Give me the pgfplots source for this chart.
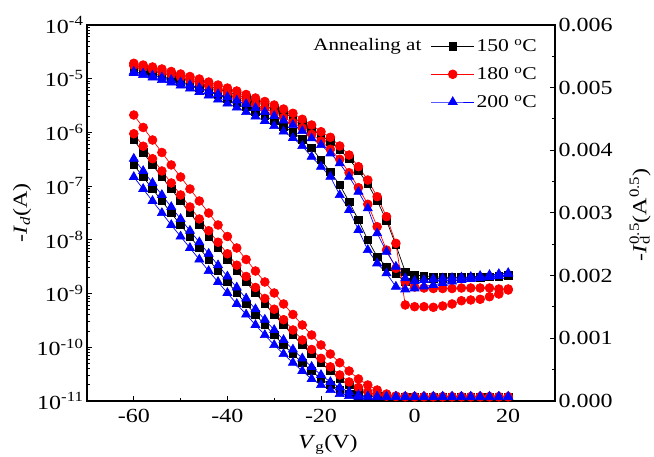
\documentclass[border=0pt]{standalone}
\usepackage{pgfplots}
\pgfplotsset{compat=1.18}
\usepackage{pgfplotstable}
\usepackage{fontspec}
\setmainfont{Liberation Serif}[FakeStretch=1.2]

\pgfplotstableread{
V Ra Rb Ka Ba Kb Bb
-60 2.11e-6 9.46e-7 7.23e-7 3.24e-7 2.48e-7 1.481e-7
-58 1.236e-6 5.53e-7 4.23e-7 1.915e-7 1.481e-7 8.85e-8
-56 7.23e-7 3.24e-7 2.48e-7 1.145e-7 8.85e-8 5.29e-8
-54 4.23e-7 1.915e-7 1.481e-7 6.85e-8 5.29e-8 3.16e-8
-52 2.48e-7 1.145e-7 8.85e-8 4.09e-8 3.16e-8 1.892e-8
-50 1.481e-7 6.85e-8 5.29e-8 2.45e-8 1.892e-8 1.156e-8
-48 8.85e-8 4.09e-8 3.16e-8 1.478e-8 1.156e-8 7.06e-9
-46 5.29e-8 2.45e-8 1.892e-8 9.03e-9 7.06e-9 4.31e-9
-44 3.16e-8 1.478e-8 1.156e-8 5.51e-9 4.31e-9 2.63e-9
-42 1.892e-8 9.03e-9 7.06e-9 3.37e-9 2.63e-9 1.643e-9
-40 1.156e-8 5.51e-9 4.31e-9 2.08e-9 1.643e-9 1.025e-9
-38 7.06e-9 3.37e-9 2.63e-9 1.297e-9 1.025e-9 6.40e-10
-36 4.31e-9 2.08e-9 1.643e-9 8.10e-10 6.40e-10 4.08e-10
-34 2.63e-9 1.297e-9 1.025e-9 5.11e-10 4.08e-10 2.60e-10
-32 1.643e-9 8.10e-10 6.40e-10 3.26e-10 2.60e-10 1.693e-10
-30 1.025e-9 5.11e-10 4.08e-10 2.10e-10 1.693e-10 1.103e-10
-28 6.40e-10 3.26e-10 2.60e-10 1.367e-10 1.103e-10 7.50e-11
-26 4.08e-10 2.10e-10 1.693e-10 9.10e-11 7.50e-11 5.16e-11
-24 2.60e-10 1.367e-10 1.103e-10 6.22e-11 5.16e-11 3.62e-11
-22 1.693e-10 9.10e-11 7.50e-11 4.32e-11 3.62e-11 2.57e-11
-20 1.103e-10 6.22e-11 5.16e-11 3.05e-11 2.57e-11 1.985e-11
-18 7.50e-11 4.32e-11 3.62e-11 2.26e-11 1.985e-11 1.602e-11
-16 5.16e-11 3.05e-11 2.57e-11 1.783e-11 1.602e-11 1.350e-11
-14 3.62e-11 2.26e-11 1.985e-11 1.471e-11 1.350e-11 1.239e-11
-12 2.57e-11 1.783e-11 1.602e-11 1.293e-11 1.239e-11 1.21e-11
-10 1.985e-11 1.471e-11 1.350e-11 1.23e-11 1.21e-11 1.2e-11
-8 1.602e-11 1.293e-11 1.239e-11 1.21e-11 1.2e-11 1.2e-11
-6 1.350e-11 1.23e-11 1.21e-11 1.2e-11 1.2e-11 1.2e-11
-4 1.239e-11 1.21e-11 1.2e-11 1.2e-11 1.2e-11 1.2e-11
-2 1.21e-11 1.2e-11 1.2e-11 1.2e-11 1.2e-11 1.2e-11
0 1.2e-11 1.2e-11 1.2e-11 1.2e-11 1.2e-11 1.2e-11
2 1.2e-11 1.2e-11 1.2e-11 1.2e-11 1.2e-11 1.2e-11
4 1.2e-11 1.2e-11 1.2e-11 1.2e-11 1.2e-11 1.2e-11
6 1.2e-11 1.2e-11 1.2e-11 1.2e-11 1.2e-11 1.2e-11
8 1.2e-11 1.2e-11 1.2e-11 1.2e-11 1.2e-11 1.2e-11
10 1.2e-11 1.2e-11 1.2e-11 1.2e-11 1.2e-11 1.2e-11
12 1.2e-11 1.2e-11 1.2e-11 1.2e-11 1.2e-11 1.2e-11
14 1.2e-11 1.2e-11 1.2e-11 1.2e-11 1.2e-11 1.2e-11
16 1.2e-11 1.2e-11 1.2e-11 1.2e-11 1.2e-11 1.2e-11
18 1.2e-11 1.2e-11 1.2e-11 1.2e-11 1.2e-11 1.2e-11
20 1.2e-11 1.2e-11 1.2e-11 1.2e-11 1.2e-11 1.2e-11
}\logdata

\pgfplotstableread{
V R1 R2 K1 K2 B1 B2
-60 0.005389 0.005353 0.005325 0.005298 0.005255 0.005234
-58 0.005361 0.005322 0.005297 0.005266 0.005226 0.005202
-56 0.005330 0.005290 0.005266 0.005226 0.005194 0.005162
-54 0.005298 0.005250 0.005234 0.005186 0.005162 0.005122
-52 0.005258 0.005210 0.005194 0.005146 0.005122 0.005082
-50 0.005218 0.005170 0.005154 0.005098 0.005082 0.005034
-48 0.005178 0.005122 0.005114 0.005050 0.005042 0.004986
-46 0.005138 0.005074 0.005074 0.004994 0.004994 0.004931
-44 0.005090 0.005026 0.005026 0.004939 0.004947 0.004875
-42 0.005042 0.004971 0.004978 0.004883 0.004899 0.004811
-40 0.004994 0.004915 0.004930 0.004819 0.004851 0.004747
-38 0.004947 0.004859 0.004883 0.004755 0.004795 0.004683
-36 0.004891 0.004795 0.004827 0.004691 0.004739 0.004611
-34 0.004835 0.004731 0.004771 0.004619 0.004675 0.004540
-32 0.004779 0.004667 0.004715 0.004548 0.004611 0.004468
-30 0.004723 0.004596 0.004659 0.004468 0.004548 0.004388
-28 0.004659 0.004524 0.004595 0.004380 0.004476 0.004300
-26 0.004591 0.004444 0.004527 0.004284 0.004404 0.004197
-24 0.004495 0.004356 0.004431 0.004173 0.004308 0.004069
-22 0.004404 0.004256 0.004340 0.004037 0.004192 0.003898
-20 0.004297 0.004149 0.004233 0.003846 0.004085 0.003739
-18 0.004208 0.004016 0.004144 0.003654 0.003952 0.003579
-16 0.004069 0.003857 0.004005 0.003447 0.003793 0.003287
-14 0.003925 0.003643 0.003861 0.003180 0.003579 0.003048
-12 0.003739 0.003404 0.003675 0.002888 0.003340 0.002729
-10 0.003526 0.003139 0.003462 0.002569 0.003075 0.002409
-8 0.003260 0.002781 0.003196 0.002303 0.002676 0.002197
-6 0.002941 0.002409 0.002877 0.002143 0.002382 0.002038
-4 0.002516 0.002117 0.002489 0.002026 0.002143 0.001824
-2 0.001532 0.001899 0.002063 0.001904 0.001958 0.001782
0 0.001505 0.001819 0.002011 0.001947 0.001915 0.001798
2 0.001505 0.001803 0.001995 0.001955 0.001931 0.001827
4 0.001495 0.001795 0.001983 0.001955 0.001947 0.001851
6 0.001516 0.001795 0.001974 0.001955 0.001955 0.001883
8 0.001548 0.001795 0.001974 0.001963 0.001963 0.001907
10 0.001600 0.001803 0.001974 0.001963 0.001971 0.001931
12 0.001612 0.001803 0.001974 0.001963 0.001979 0.001947
14 0.001623 0.001803 0.001983 0.001971 0.001995 0.001963
16 0.001664 0.001803 0.001983 0.001979 0.002011 0.001979
18 0.001707 0.001787 0.001995 0.001987 0.002026 0.001995
20 0.001771 0.001787 0.002011 0.001995 0.002042 0.002026
}\sqrtdata

\pgfplotsset{
  common/.style={
    scale only axis, width=468pt, height=376pt,
    at={(87pt,56pt)}, anchor=south west,
    xmin=-70, xmax=30,
    clip=false,
    tick align=inside,
    major tick length=5pt, minor tick length=3pt,
    every tick/.style={line width=1pt, black},
    axis line style={line width=1.2pt},
    tick label style={font=\fontsize{20}{24}\selectfont},
    label style={font=\fontsize{20}{24}\selectfont},
  },
  blk/.style={black, line width=0.7pt, mark=square*, mark size=3.8pt, mark options={solid, fill=black, draw=black}},
  rd/.style={red, line width=0.7pt, mark=*, mark size=4.4pt, mark options={solid, fill=red, draw=red}},
  bl/.style={blue, line width=0.7pt, mark=triangle*, mark size=5.2pt, mark options={solid, fill=blue, draw=blue}},
}

\begin{document}
\begin{tikzpicture}[x=1pt,y=1pt]
\path[use as bounding box] (0,0) rectangle (654,457);
\begin{axis}[common,
  ymode=log, ymin=1e-11, ymax=1e-4,
  xtick={-60,-40,-20,0,20}, xticklabels={-60,-40,-20,0,20},
  minor xtick={-50,-30,-10,10},
  xtick pos=left, ytick pos=left,
  xticklabel style={yshift=-5pt},
  ytick={1e-11,1e-10,1e-9,1e-8,1e-7,1e-6,1e-5,1e-4},
  yticklabels={10\textsuperscript{-11},10\textsuperscript{-10},10\textsuperscript{-9},10\textsuperscript{-8},10\textsuperscript{-7},10\textsuperscript{-6},10\textsuperscript{-5},10\textsuperscript{-4}},
  minor ytick={2e-11,3e-11,4e-11,5e-11,6e-11,7e-11,8e-11,9e-11,
    2e-10,3e-10,4e-10,5e-10,6e-10,7e-10,8e-10,9e-10,
    2e-9,3e-9,4e-9,5e-9,6e-9,7e-9,8e-9,9e-9,
    2e-8,3e-8,4e-8,5e-8,6e-8,7e-8,8e-8,9e-8,
    2e-7,3e-7,4e-7,5e-7,6e-7,7e-7,8e-7,9e-7,
    2e-6,3e-6,4e-6,5e-6,6e-6,7e-6,8e-6,9e-6,
    2e-5,3e-5,4e-5,5e-5,6e-5,7e-5,8e-5,9e-5},
  xlabel={\textit{V}\textsubscript{g}(V)},
  x label style={at={(axis description cs:0.515,-0.117)}, anchor=center},
  ylabel={-\textit{I}\textsubscript{\textit{d}}(A)},
  y label style={at={(axis description cs:-0.139,0.5)}, anchor=center},
  legend style={at={(axis description cs:0.728,0.972)}, anchor=north west, draw=none, fill=none,
    font=\fontsize{18}{21}\selectfont, row sep=10pt, cells={anchor=west}},
  legend image code/.code={\draw[mark repeat=2,mark phase=2,#1] plot coordinates {(0pt,0pt) (21.5pt,0pt) (43pt,0pt)};},
]
\addplot[blk] table[x=V,y=Ka]{\logdata}; \addlegendentry{150 \textsuperscript{o}C}
\addplot[blk, forget plot] table[x=V,y=Kb]{\logdata};
\addplot[rd] table[x=V,y=Ra]{\logdata}; \addlegendentry{180 \textsuperscript{o}C}
\addplot[rd, forget plot] table[x=V,y=Rb]{\logdata};
\addplot[bl] table[x=V,y=Ba]{\logdata}; \addlegendentry{200 \textsuperscript{o}C}
\addplot[bl, forget plot] table[x=V,y=Bb]{\logdata};
\node[anchor=east, font=\fontsize{17.5}{21}\selectfont] at (axis description cs:0.722,0.942) {Annealing at};
\end{axis}
\begin{axis}[common,
  ymin=0, ymax=0.006,
  axis x line=none, axis y line*=right,
  scaled y ticks=false,
  ytick={0,0.001,0.002,0.003,0.004,0.005,0.006},
  yticklabels={0.000,0.001,0.002,0.003,0.004,0.005,0.006},
  minor ytick={0.0005,0.0015,0.0025,0.0035,0.0045,0.0055},
  ylabel={-\textit{I}\rlap{\textsubscript{d}}\textsuperscript{0.5}(A\textsuperscript{0.5})},
  y label style={at={(axis description cs:1.182,0.495)}, anchor=center},
]
\addplot[blk] table[x=V,y=K1]{\sqrtdata};
\addplot[blk] table[x=V,y=K2]{\sqrtdata};
\addplot[rd] table[x=V,y=R1]{\sqrtdata};
\addplot[rd] table[x=V,y=R2]{\sqrtdata};
\addplot[bl] table[x=V,y=B1]{\sqrtdata};
\addplot[bl] table[x=V,y=B2]{\sqrtdata};
\end{axis}
\end{tikzpicture}
\end{document}
